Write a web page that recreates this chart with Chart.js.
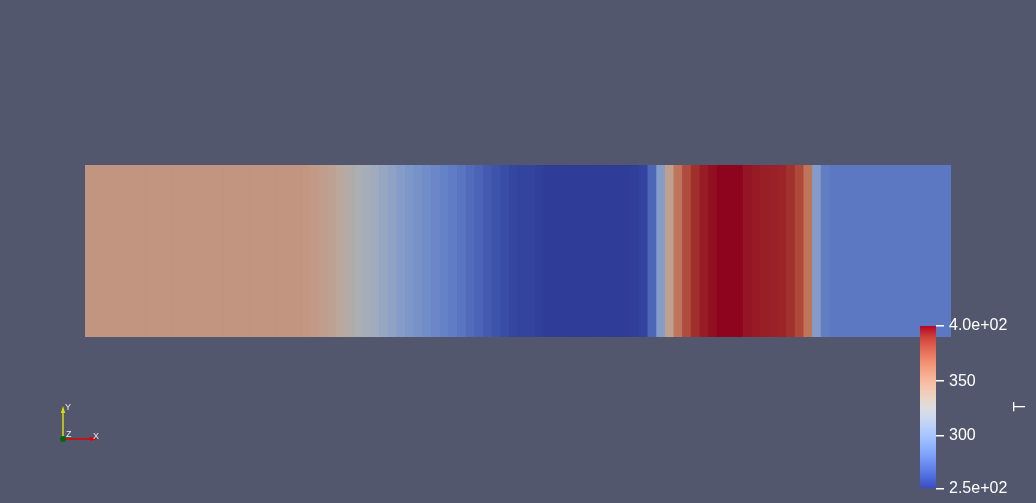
<!DOCTYPE html>
<html lang="en">
<head>
<meta charset="UTF-8">
<title>T along the tube</title>
<script src="https://cdn.jsdelivr.net/npm/chart.js"></script>
<style>
  body { margin: 0; background: #52576e; width: 1036px; height: 503px; overflow: hidden; position: relative; }
  canvas { position: absolute; }
  #strip { left: 0; top: 0; }
  #bar { left: 900px; top: 300px; }
</style>
</head>
<body>
<canvas id="strip" width="1036" height="503"></canvas>
<canvas id="bar" width="136" height="203"></canvas>
<script>
// temperature per cell, left to right (100 cells)
const cellT = [
  348.4, 348.4, 348.4, 348.4, 348.4, 348.4, 348.4, 348.4, 348.4, 348.4,
  348.4, 348.4, 348.4, 348.4, 348.4, 348.4, 348.4, 348.4, 348.4, 348.4,
  348.4, 348.4, 348.4, 348.4, 348.4, 347.5, 345.5, 343, 339.5, 335,
  330, 325, 320.5, 316, 311, 306, 301, 297, 293, 290,
  287, 284, 281, 277.5, 273, 269, 265, 262, 259, 256,
  255, 255, 253.5, 252, 252, 252, 252, 252, 252, 252,
  252, 252, 252, 253, 255, 270, 301, 341, 366, 382,
  391.5, 395.5, 398.5, 400.5, 400.5, 400.5, 397, 396, 395, 394.5,
  394, 391, 383, 366, 301, 281.5, 278.7, 278.7, 278.7, 278.7,
  278.7, 278.7, 278.7, 278.7, 278.7, 278.7, 278.7, 278.7, 278.7, 278.7
];

// colour bar range and ticks
const rangeT = [251.8, 400.6];
const barTicks = [251.8, 300, 350, 400.6];
const barLabels = ['2.5e+02', '300', '350', '4.0e+02'];
const barTitle = 'T';

// Cool to Warm colour map
const coolWarm = [
  [59, 76, 192], [77, 104, 215], [98, 130, 234], [119, 154, 247],
  [141, 176, 254], [163, 194, 255], [184, 208, 249], [204, 217, 238],
  [221, 221, 221], [236, 211, 197], [245, 196, 173], [247, 177, 148],
  [244, 154, 123], [236, 127, 99], [222, 96, 77], [203, 62, 56], [180, 4, 38]
];
const shade = 0.79; // lit surface is a bit darker than the bar

function cmap(v, k) {
  let t = (v - rangeT[0]) / (rangeT[1] - rangeT[0]);
  t = Math.min(1, Math.max(0, t));
  const n = coolWarm.length - 1;
  const i = Math.min(n - 1, Math.floor(t * n));
  const f = t * n - i;
  const a = coolWarm[i], b = coolWarm[i + 1];
  const c = a.map((x, j) => Math.round((x + (b[j] - x) * f) * k));
  return `rgb(${c[0]},${c[1]},${c[2]})`;
}

const font = 'Liberation Sans, Arial, sans-serif';

// small orientation axes in the corner
const triad = {
  id: 'triad',
  afterDraw(chart) {
    const ctx = chart.ctx;
    const ox = 63, oy = 439;
    ctx.save();
    ctx.lineWidth = 1.5;
    // Y
    ctx.strokeStyle = ctx.fillStyle = '#dcdc00';
    ctx.beginPath(); ctx.moveTo(ox, oy); ctx.lineTo(ox, 412); ctx.stroke();
    ctx.beginPath(); ctx.moveTo(ox, 406); ctx.lineTo(ox - 2.2, 413); ctx.lineTo(ox + 2.2, 413); ctx.closePath(); ctx.fill();
    // X
    ctx.strokeStyle = ctx.fillStyle = '#e00000';
    ctx.beginPath(); ctx.moveTo(ox, oy); ctx.lineTo(91, oy); ctx.stroke();
    ctx.beginPath(); ctx.moveTo(98, oy); ctx.lineTo(90, oy - 2); ctx.lineTo(90, oy + 2); ctx.closePath(); ctx.fill();
    // Z
    ctx.fillStyle = '#006a00';
    ctx.beginPath(); ctx.arc(ox, oy, 3, 0, Math.PI * 2); ctx.fill();
    ctx.fillStyle = '#e8e8e8';
    ctx.font = '9px ' + font;
    ctx.textBaseline = 'middle';
    ctx.fillText('Y', 65, 408);
    ctx.fillText('Z', 66, 435);
    ctx.fillText('X', 93, 437);
    ctx.restore();
  }
};

new Chart(document.getElementById('strip'), {
  type: 'bar',
  data: {
    labels: cellT.map((_, i) => i),
    datasets: [{
      data: cellT.map(() => 1),
      backgroundColor: cellT.map(v => cmap(v, shade)),
      borderWidth: 0,
      barPercentage: 1,
      categoryPercentage: 1
    }]
  },
  options: {
    responsive: false,
    animation: false,
    devicePixelRatio: 1,
    layout: { padding: { left: 85, right: 85, top: 165, bottom: 166 } },
    scales: {
      x: { display: false },
      y: { display: false, min: 0, max: 1 }
    },
    plugins: { legend: { display: false }, tooltip: { enabled: false } }
  },
  plugins: [triad]
});

// rotated title next to the colour bar
const titleT = {
  id: 'titleT',
  afterDraw(chart) {
    const ctx = chart.ctx;
    ctx.save();
    ctx.translate(121, 106.5);
    ctx.rotate(-Math.PI / 2);
    ctx.fillStyle = '#ffffff';
    ctx.font = '16px ' + font;
    ctx.textAlign = 'center';
    ctx.textBaseline = 'middle';
    ctx.fillText(barTitle, 0, 0);
    ctx.restore();
  }
};

new Chart(document.getElementById('bar'), {
  type: 'bar',
  data: {
    labels: [barTitle],
    datasets: [{
      data: [rangeT],
      backgroundColor: c => {
        const area = c.chart.chartArea;
        if (!area) return null;
        const g = c.chart.ctx.createLinearGradient(0, area.bottom, 0, area.top);
        coolWarm.forEach((col, i) => g.addColorStop(i / (coolWarm.length - 1), `rgb(${col})`));
        return g;
      },
      borderWidth: 0,
      barPercentage: 1,
      categoryPercentage: 1
    }]
  },
  options: {
    responsive: false,
    animation: false,
    devicePixelRatio: 1,
    layout: { padding: { left: 20, right: 0, top: 26, bottom: 12 } },
    scales: {
      x: { display: false },
      y: {
        position: 'right',
        min: rangeT[0],
        max: rangeT[1],
        afterFit: s => { s.width = 100; },
        afterBuildTicks: s => { s.ticks = barTicks.map(v => ({ value: v })); },
        ticks: {
          callback: (v, i) => barLabels[i],
          color: '#ffffff',
          font: { family: font, size: 16 },
          padding: 5,
          autoSkip: false
        },
        grid: { drawOnChartArea: false, tickLength: 8, color: '#ffffff', lineWidth: 1.5 },
        border: { display: false }
      }
    },
    plugins: { legend: { display: false }, tooltip: { enabled: false } }
  },
  plugins: [titleT]
});
</script>
</body>
</html>
